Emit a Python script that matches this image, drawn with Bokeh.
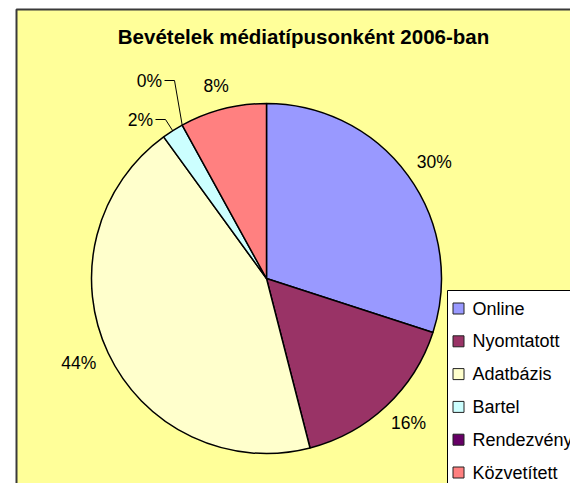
import math
from bokeh.plotting import figure
from bokeh.models import Range1d, ColumnDataSource
from bokeh.core.properties import value
from bokeh.embed import file_html
from bokeh.resources import INLINE

# ---- data ----
categories = ["Online", "Nyomtatott", "Adatbázis", "Bartel", "Rendezvény", "Közvetített"]
shares = [30, 16, 44, 2, 0, 8]
colors = ["#9999FF", "#993366", "#FFFFCC", "#CCFFFF", "#660066", "#FF8080"]
title_text = "Bevételek médiatípusonként 2006-ban"

FONT = value("Liberation Sans")

# ---- layout (reference pixel coords, y grows downward; plotted as -y) ----
CX, CY, R = 266, 278, 175
LABEL_GAP = 15
LABEL_PX = 17.5
# manually placed labels (with leader lines) for tiny slices
manual_labels = {"Rendezvény": (149, 80), "Bartel": (140, 119)}

p = figure(width=570, height=483, output_backend="svg", toolbar_location=None,
           x_range=Range1d(0, 570), y_range=Range1d(-483, 0),
           min_border=0, background_fill_color="white", border_fill_color="white")
p.axis.visible = False
p.grid.visible = False
p.outline_line_color = None

# chart panel
p.quad(left=[16], right=[700], top=[-9], bottom=[-700],
       fill_color="#FFFF99", line_color="#3a3a3a", line_width=2)

# title
p.text(x=[303], y=[-36], text=[title_text], text_font=FONT, text_font_size="20.5px",
       text_font_style="bold", text_align="center", text_baseline="middle", text_color="black")

# wedges
total = float(sum(shares))
starts, ends, mids = [], [], []
cum = 0.0
for v in shares:
    a0 = math.pi / 2 - 2 * math.pi * cum / total
    cum += v
    a1 = math.pi / 2 - 2 * math.pi * cum / total
    starts.append(a0)
    ends.append(a1)
    mids.append((a0 + a1) / 2)

keep = [i for i, v in enumerate(shares) if v > 0]
src = ColumnDataSource(dict(start=[starts[i] for i in keep], end=[ends[i] for i in keep],
                            color=[colors[i] for i in keep]))
p.wedge(x=CX, y=-CY, radius=R, start_angle="start", end_angle="end", direction="clock",
        fill_color="color", line_color="black", line_width=1.5, source=src)

# labels (box placed just outside the slice, on its mid angle)
lx, ly, lt = [], [], []
for cat, v, m in zip(categories, shares, mids):
    txt = f"{v}%"
    if cat in manual_labels:
        x, y = manual_labels[cat]
        ex = CX + R * math.cos(m)
        ey = CY - R * math.sin(m)
        p.line(x=[x + 15, x + 25, ex], y=[-y, -y, -ey], line_color="black", line_width=1)
    else:
        w = (0.556 * (len(txt) - 1) + 0.889) * LABEL_PX
        h = LABEL_PX
        c, s = math.cos(m), math.sin(m)
        x = CX + (R + LABEL_GAP) * c + w / 2 * c
        y = CY - (R + LABEL_GAP) * s - h / 2 * s
    lx.append(x)
    ly.append(-y)
    lt.append(txt)
p.text(x=lx, y=ly, text=lt, text_font=FONT, text_font_size=f"{LABEL_PX}px",
       text_align="center", text_baseline="middle", text_color="black")

# legend (drawn manually; clipped by the window like the reference)
p.quad(left=[447], right=[700], top=[-290], bottom=[-700],
       fill_color="white", line_color="black", line_width=1)
leg_y = [-(308 + 32.8 * i) for i in range(len(categories))]
p.scatter(x=[458] * len(categories), y=leg_y, marker="square", size=11,
          fill_color=colors, line_color="#222222", line_width=1)
p.text(x=[472] * len(categories), y=leg_y, text=categories, text_font=FONT,
       text_font_size="18px", text_align="left", text_baseline="middle", text_color="black")

open("out.html", "w").write(file_html(p, INLINE))
